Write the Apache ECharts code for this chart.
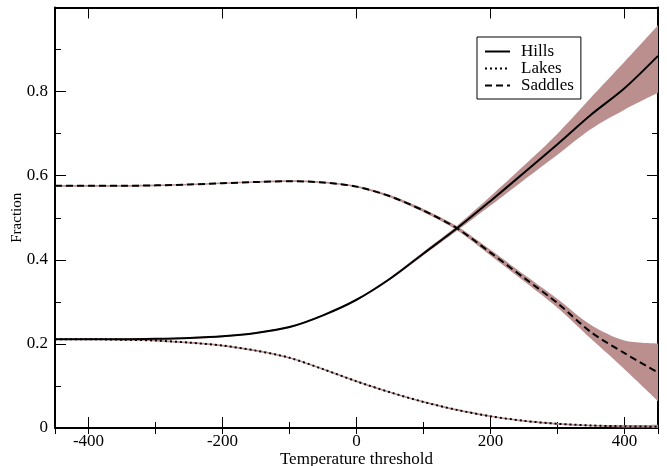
<!DOCTYPE html>
<html>
<head>
<meta charset="utf-8">
<script src="https://cdn.jsdelivr.net/npm/echarts@6/dist/echarts.min.js"></script>
<style>html,body{margin:0;padding:0;background:#fff;}#c{width:667px;height:466px;}</style>
</head>
<body>
<div id="c"></div>
<script>
// Temperature thresholds (x)
const temps = [-450,-400,-350,-300,-250,-200,-150,-100,-50,0,50,100,150,200,250,300,350,400,450];

// Hills
const hills     = [0.211,0.211,0.211,0.212,0.214,0.218,0.226,0.240,0.268,0.305,0.355,0.415,0.475,0.540,0.607,0.675,0.745,0.808,0.885];
const hillsLow  = [0.209,0.209,0.209,0.210,0.212,0.216,0.224,0.238,0.266,0.303,0.352,0.411,0.469,0.529,0.590,0.650,0.711,0.757,0.797];
const hillsHigh = [0.213,0.213,0.213,0.214,0.216,0.220,0.228,0.242,0.270,0.307,0.358,0.419,0.481,0.551,0.624,0.700,0.786,0.871,0.958];

// Lakes
const lakes     = [0.211,0.211,0.210,0.208,0.203,0.196,0.184,0.167,0.140,0.111,0.085,0.062,0.043,0.028,0.017,0.010,0.006,0.004,0.003];
const lakesLow  = [0.209,0.209,0.208,0.206,0.201,0.194,0.182,0.165,0.138,0.109,0.083,0.060,0.041,0.026,0.015,0.008,0.004,0.001,0.000];
const lakesHigh = [0.213,0.213,0.212,0.210,0.205,0.198,0.186,0.169,0.142,0.113,0.087,0.064,0.045,0.030,0.019,0.012,0.008,0.007,0.008];

// Saddles
const saddles     = [0.576,0.576,0.576,0.577,0.579,0.582,0.585,0.587,0.584,0.574,0.551,0.517,0.475,0.417,0.357,0.297,0.228,0.178,0.132];
const saddlesLow  = [0.574,0.574,0.574,0.575,0.577,0.580,0.583,0.585,0.582,0.572,0.548,0.513,0.470,0.410,0.349,0.286,0.212,0.140,0.064];
const saddlesHigh = [0.578,0.578,0.578,0.579,0.581,0.584,0.587,0.589,0.586,0.576,0.554,0.521,0.480,0.424,0.365,0.307,0.245,0.208,0.201];

const seriesNames = ['Hills','Lakes','Saddles'];
const xName = 'Temperature threshold';
const yName = 'Fraction';

const FONT = "'Liberation Serif','Times New Roman',serif";
const BAND = '#bc8f8f';

function pts(ys){ return temps.map((x,i)=>[x, ys[i]]); }
// band data: value first so the stack runs on the y value
function bpts(ys){ return temps.map((x,i)=>[ys[i], x]); }
function band(id, low, high){
  return [
    {type:'line', name:id+'Low', stack:id, stackStrategy:'all', data:bpts(low), encode:{x:1, y:0},
     symbol:'none', smooth:0.3, lineStyle:{opacity:0, width:0}, silent:true, z:1},
    {type:'line', name:id+'Band', stack:id, stackStrategy:'all', data:bpts(high.map((h,i)=>h-low[i])), encode:{x:1, y:0},
     symbol:'none', smooth:0.3, lineStyle:{opacity:0, width:0}, areaStyle:{color:BAND, opacity:1}, silent:true, z:1}
  ];
}

const tickMajor = {show:true, inside:true, length:11, lineStyle:{color:'#000', width:1}};
const tickMinor = {show:true, inside:true, length:6, lineStyle:{color:'#000', width:1}};
const axLine = {show:true, onZero:false, lineStyle:{color:'#000', width:2}};

const chart = echarts.init(document.getElementById('c'), null, {renderer:'canvas'});
chart.setOption({
  animation:false,
  backgroundColor:'#fff',
  grid:{left:55, right:9, top:7.5, bottom:38, containLabel:false, outerBoundsMode:'none'},
  legend:{
    data:seriesNames, orient:'vertical', left:477, top:37,
    itemWidth:25, itemHeight:12, itemGap:0, padding:[6,7,5,7],
    borderColor:'#000', borderWidth:1, backgroundColor:'#fff',
    itemStyle:{color:'transparent', borderColor:'transparent', borderWidth:0, opacity:0},
    textStyle:{fontFamily:FONT, fontSize:17, lineHeight:17, color:'#000', padding:[0,0,0,6]}
  },
  xAxis:[
    {type:'value', position:'bottom', min:-450, max:450, splitNumber:5,
     axisLine:axLine, axisTick:tickMajor, splitLine:{show:false},
     axisLabel:{show:true, margin:5, showMinLabel:false, showMaxLabel:false, fontFamily:FONT, fontSize:17, color:'#000'},
     name:xName, nameLocation:'middle', nameGap:23, nameMoveOverlap:false,
     nameTextStyle:{fontFamily:FONT, fontSize:17, color:'#000'}},
    {type:'value', position:'bottom', min:-450, max:450, splitNumber:9,
     axisLine:{show:false}, axisTick:tickMinor, axisLabel:{show:false}, splitLine:{show:false}},
    {type:'value', position:'top', min:-450, max:450, splitNumber:5,
     axisLine:axLine, axisTick:tickMajor, axisLabel:{show:false}, splitLine:{show:false}},
    {type:'value', position:'top', min:-450, max:450, splitNumber:9,
     axisLine:{show:false}, axisTick:tickMinor, axisLabel:{show:false}, splitLine:{show:false}}
  ],
  yAxis:[
    {type:'value', position:'left', min:0, max:1, interval:0.2,
     axisLine:axLine, axisTick:tickMajor, minorTick:{show:true, splitNumber:2, length:6, lineStyle:{color:'#000', width:1}},
     splitLine:{show:false}, minorSplitLine:{show:false},
     axisLabel:{margin:7, fontFamily:FONT, fontSize:17, color:'#000', formatter:v=> v>=1 ? '' : String(+v.toFixed(1))},
     name:yName, nameLocation:'middle', nameGap:30, nameMoveOverlap:false,
     nameTextStyle:{fontFamily:FONT, fontSize:15, color:'#000'}},
    {type:'value', position:'right', min:0, max:1, interval:0.2,
     axisLine:axLine, axisTick:tickMajor, minorTick:{show:true, splitNumber:2, length:6, lineStyle:{color:'#000', width:1}},
     splitLine:{show:false}, axisLabel:{show:false}}
  ],
  series:[
    ...band('h', hillsLow, hillsHigh),
    ...band('l', lakesLow, lakesHigh),
    ...band('s', saddlesLow, saddlesHigh),
    {type:'line', name:'Hills', data:pts(hills), symbol:'none', smooth:0.3, z:5,
     lineStyle:{color:'#000', width:2, type:'solid'}, itemStyle:{color:'#000'}},
    {type:'line', name:'Lakes', data:pts(lakes), symbol:'none', smooth:0.3, z:5,
     lineStyle:{color:'#000', width:2, type:[2,3]}, itemStyle:{color:'#000'}},
    {type:'line', name:'Saddles', data:pts(saddles), symbol:'none', smooth:0.3, z:5,
     lineStyle:{color:'#000', width:2, type:[7,4]}, itemStyle:{color:'#000'}}
  ]
});
</script>
</body>
</html>
